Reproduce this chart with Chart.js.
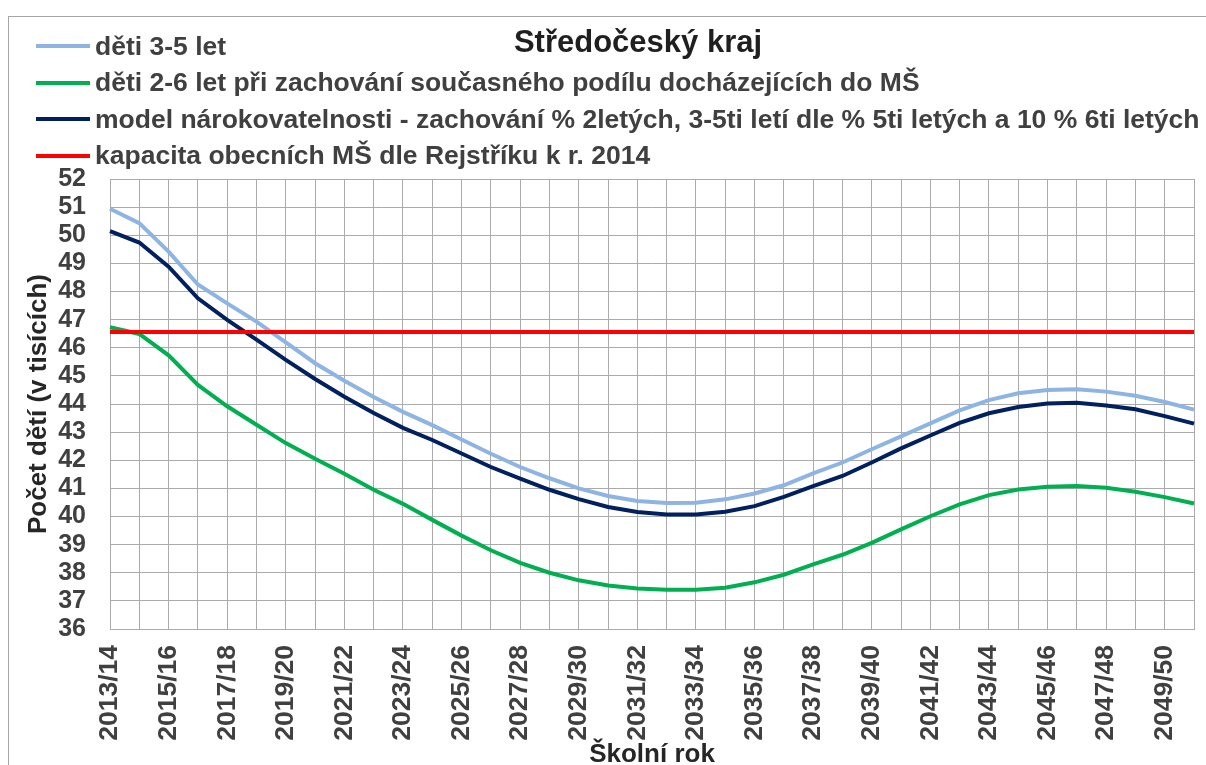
<!DOCTYPE html>
<html>
<head>
<meta charset="utf-8">
<script src="https://cdn.jsdelivr.net/npm/chart.js@4"></script>
<style>
  html, body { margin: 0; padding: 0; background: #fff; }
  #wrap { position: relative; width: 1206px; height: 765px; overflow: hidden; font-family: "Liberation Sans", Arial, sans-serif; }
  #frame { position: absolute; left: 8px; top: 16px; width: 1300px; height: 900px; border-left: 1px solid #a6a6a6; border-top: 1px solid #a6a6a6; }
  canvas { position: absolute; left: 0; top: 0; }
  #title { position: absolute; left: 638px; top: 27px; transform: translateX(-50%); font-size: 31px; line-height: 30px; font-weight: bold; color: #1f1f1f; white-space: nowrap; }
  .lg { position: absolute; left: 36px; height: 30px; display: flex; align-items: center; white-space: nowrap; font-size: 26.5px; font-weight: bold; color: #404040; }
  .lg span.ln { display: inline-block; width: 54px; height: 4px; margin-right: 5px; }
</style>
</head>
<body>
<div id="wrap">
  <div id="frame"></div>
  <canvas id="c" width="1206" height="765"></canvas>
  <div id="title">Středočeský kraj</div>
  <div id="legend"></div>
</div>
<script>
const categories = ['2013/14','2014/15','2015/16','2016/17','2017/18','2018/19','2019/20','2020/21','2021/22','2022/23',
  '2023/24','2024/25','2025/26','2026/27','2027/28','2028/29','2029/30','2030/31','2031/32','2032/33',
  '2033/34','2034/35','2035/36','2036/37','2037/38','2038/39','2039/40','2040/41','2041/42','2042/43',
  '2043/44','2044/45','2045/46','2046/47','2047/48','2048/49','2049/50','2050/51'];

const deti35 = [50.94,50.43,49.42,48.25,47.58,46.93,46.19,45.45,44.83,44.25,
  43.72,43.25,42.74,42.23,41.76,41.36,41.00,40.73,40.55,40.48,
  40.49,40.61,40.82,41.11,41.53,41.92,42.39,42.85,43.31,43.77,
  44.14,44.38,44.50,44.52,44.44,44.29,44.07,43.80];

const deti26 = [46.73,46.49,45.73,44.68,43.92,43.26,42.61,42.05,41.52,40.95,
  40.45,39.88,39.32,38.80,38.35,38.00,37.73,37.55,37.44,37.40,
  37.40,37.47,37.66,37.93,38.30,38.64,39.06,39.54,40.01,40.43,
  40.76,40.96,41.06,41.08,41.02,40.88,40.69,40.46];

const model = [50.15,49.74,48.88,47.76,46.99,46.29,45.57,44.89,44.26,43.68,
  43.15,42.72,42.24,41.76,41.35,40.95,40.62,40.34,40.16,40.07,
  40.07,40.17,40.37,40.70,41.08,41.44,41.92,42.42,42.88,43.33,
  43.67,43.89,44.02,44.04,43.95,43.81,43.57,43.30];

const kapacita = [46.56,46.56,46.56,46.56,46.56,46.56,46.56,46.56,46.56,46.56,
  46.56,46.56,46.56,46.56,46.56,46.56,46.56,46.56,46.56,46.56,
  46.56,46.56,46.56,46.56,46.56,46.56,46.56,46.56,46.56,46.56,
  46.56,46.56,46.56,46.56,46.56,46.56,46.56,46.56];

const seriesNames = [
  'děti 3-5 let',
  'děti 2-6 let při zachování současného podílu docházejících do MŠ',
  'model nárokovatelnosti - zachování % 2letých, 3-5ti letí dle % 5ti letých a 10 % 6ti letých',
  'kapacita obecních MŠ dle Rejstříku k r. 2014'
];
const seriesColors = ['#8db4e2', '#00b050', '#002060', '#ff0000'];
const seriesData = [deti35, deti26, model, kapacita];

const yTicks = { min: 36, max: 52, step: 1 };

const FONT = '"Liberation Sans", Arial, sans-serif';
const GRID = '#ababab';
const TEXT = '#404040';

// HTML legend
const legendTops = [31, 67.5, 104, 140.5];
const lg = document.getElementById('legend');
seriesNames.forEach((n, i) => {
  const d = document.createElement('div');
  d.className = 'lg';
  d.style.top = legendTops[i] + 'px';
  const s = document.createElement('span');
  s.className = 'ln';
  s.style.background = seriesColors[i];
  d.appendChild(s);
  d.appendChild(document.createTextNode(n));
  lg.appendChild(d);
});

new Chart(document.getElementById('c'), {
  type: 'line',
  data: {
    labels: categories,
    datasets: seriesData.map((d, i) => ({
      label: seriesNames[i],
      data: d,
      borderColor: seriesColors[i],
      backgroundColor: seriesColors[i],
      borderWidth: 4,
      pointRadius: 0,
      tension: 0,
      fill: false,
      order: i === 3 ? 0 : 1
    }))
  },
  options: {
    responsive: false,
    animation: false,
    layout: { padding: { top: 179, right: 12, left: 0, bottom: 0 } },
    plugins: { legend: { display: false }, title: { display: false }, tooltip: { enabled: false } },
    scales: {
      x: {
        type: 'category',
        offset: false,
        grid: { color: GRID, lineWidth: 1, drawTicks: false },
        border: { color: GRID, width: 1 },
        ticks: {
          autoSkip: false, maxRotation: 90, minRotation: 90, padding: 16,
          color: TEXT, font: { family: FONT, size: 26.5, weight: 'bold' },
          callback: (v, i) => (i % 2 === 0 ? categories[i] : '')
        },
        title: {
          display: true, text: 'Školní rok', color: '#262626',
          font: { family: FONT, size: 26, weight: 'bold', lineHeight: 0.8 },
          padding: { top: 0, bottom: 0 }
        },
        afterFit: s => { s.height = 136; s.paddingLeft = 0; s.paddingRight = 0; }
      },
      y: {
        min: yTicks.min, max: yTicks.max,
        grid: { color: GRID, lineWidth: 1, drawTicks: false },
        border: { color: GRID, width: 1 },
        ticks: {
          stepSize: yTicks.step, autoSkip: false, padding: 24, color: TEXT,
          font: { family: FONT, size: 25, weight: 'bold' }
        },
        title: {
          display: true, text: 'Počet dětí (v tisících)', color: '#262626',
          font: { family: FONT, size: 26, weight: 'bold' },
          padding: { top: 23, bottom: 0 }
        },
        afterFit: s => { s.width = 110; s.paddingTop = 0; s.paddingBottom = 0; }
      }
    }
  }
});
</script>
</body>
</html>
